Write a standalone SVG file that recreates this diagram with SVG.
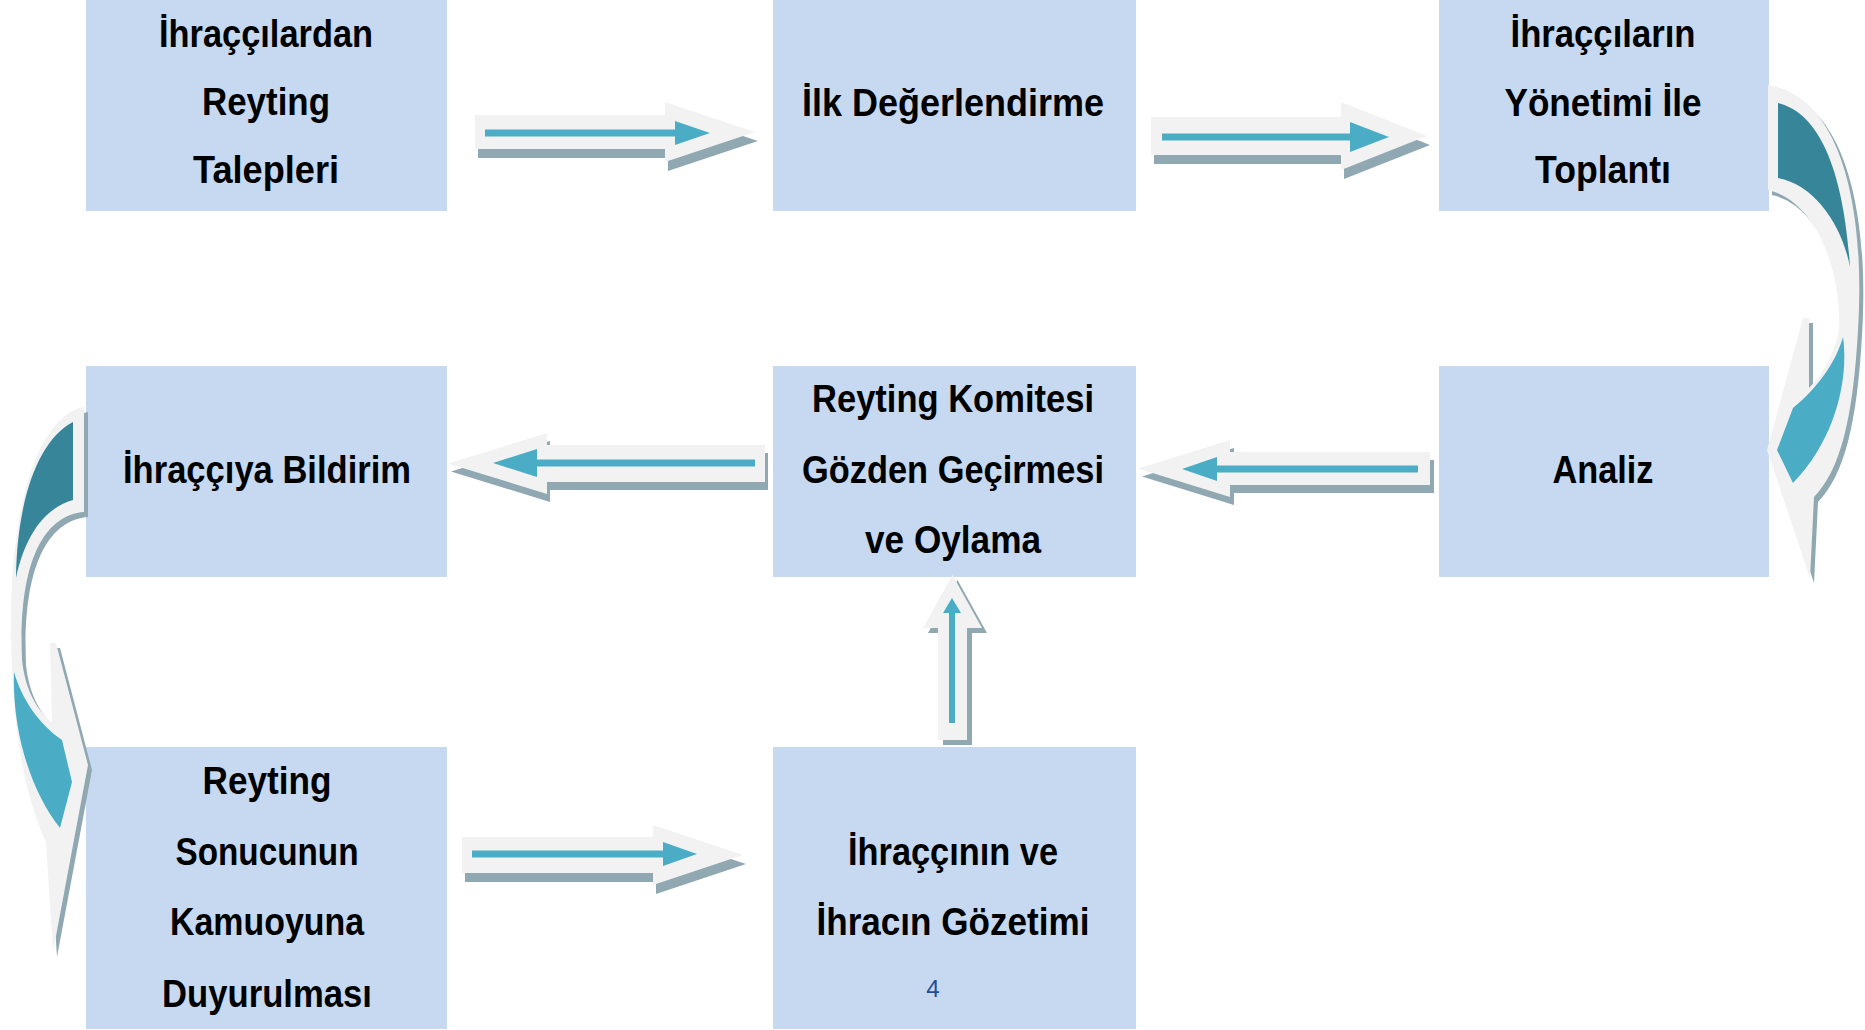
<svg xmlns="http://www.w3.org/2000/svg" xmlns:xlink="http://www.w3.org/1999/xlink" width="1865" height="1030" viewBox="0 0 1865 1030">
<style>
.box{fill:#C6D9F1}
.t{font-family:"Liberation Sans Narrow","Liberation Sans",Arial,sans-serif;font-weight:bold;font-size:39px;text-anchor:middle;fill:#000}
.num{font-family:"Liberation Sans",Arial,sans-serif;font-size:24px;text-anchor:middle;fill:#1F4E99}
.env{fill:#F2F2F2}
.shd{fill:#8FA8B1}
.teal{fill:#4BACC6}
.tl{stroke:#4BACC6;stroke-width:7;fill:none}
.dark{fill:#378598}
</style>
<defs>
<path id="a1" d="M475 115H665V102L755 132L665 162V149H475Z"/>
<path id="a2" d="M1151 117H1341V102L1427 136L1341 170V155H1151Z"/>
<path id="a3" d="M462 837H653V825L743 855L653 885V873H462Z"/>
<path id="a4" d="M1430 452H1230V440L1138 468.5L1230 497V485H1430Z"/>
<path id="a5" d="M765 445H547V433L448 463.5L547 494V482H765Z"/>
<path id="a6" d="M938 740V628H923L952.5 575L982 628H967V740Z"/>
<path id="cr" d="M1768 85C1838 95 1866 200 1858 330C1853 420 1840 470 1814 497L1810 578L1767 450L1803 318L1809 318L1809 388C1822 375 1834 355 1839 330C1842 270 1815 200 1768 190Z"/>
<path id="cl" d="M84 407C40 415 10 500 11 630C12 720 22 790 46 842L53 952L88 765L56 643L50 643L52 722C38 712 25 690 22 660C18 560 45 515 84 512Z"/>
</defs>
<rect width="1865" height="1030" fill="#fff"/>
<g id="node-talepleri">
<rect class="box" x="86" y="0" width="361" height="211"/>
<text class="t" x="266" y="47" textLength="214" lengthAdjust="spacingAndGlyphs">İhraççılardan</text>
<text class="t" x="266" y="115" textLength="128" lengthAdjust="spacingAndGlyphs">Reyting</text>
<text class="t" x="266" y="183" textLength="146" lengthAdjust="spacingAndGlyphs">Talepleri</text>
</g>
<g id="node-ilk">
<rect class="box" x="773" y="0" width="363" height="211"/>
<text class="t" x="953" y="116" textLength="302" lengthAdjust="spacingAndGlyphs">İlk Değerlendirme</text>
</g>
<g id="node-toplanti">
<rect class="box" x="1439" y="0" width="330" height="211"/>
<text class="t" x="1603" y="47" textLength="185" lengthAdjust="spacingAndGlyphs">İhraççıların</text>
<text class="t" x="1603" y="116" textLength="197" lengthAdjust="spacingAndGlyphs">Yönetimi İle</text>
<text class="t" x="1603" y="183" textLength="136" lengthAdjust="spacingAndGlyphs">Toplantı</text>
</g>
<g id="node-bildirim">
<rect class="box" x="86" y="366" width="361" height="211"/>
<text class="t" x="267" y="483" textLength="288" lengthAdjust="spacingAndGlyphs">İhraççıya Bildirim</text>
</g>
<g id="node-komite">
<rect class="box" x="773" y="366" width="363" height="211"/>
<text class="t" x="953" y="412" textLength="282" lengthAdjust="spacingAndGlyphs">Reyting Komitesi</text>
<text class="t" x="953" y="483" textLength="302" lengthAdjust="spacingAndGlyphs">Gözden Geçirmesi</text>
<text class="t" x="953" y="553" textLength="176" lengthAdjust="spacingAndGlyphs">ve Oylama</text>
</g>
<g id="node-analiz">
<rect class="box" x="1439" y="366" width="330" height="211"/>
<text class="t" x="1603" y="483" textLength="101" lengthAdjust="spacingAndGlyphs">Analiz</text>
</g>
<g id="node-duyuru">
<rect class="box" x="86" y="747" width="361" height="282"/>
<text class="t" x="267" y="794" textLength="129" lengthAdjust="spacingAndGlyphs">Reyting</text>
<text class="t" x="267" y="865" textLength="183" lengthAdjust="spacingAndGlyphs">Sonucunun</text>
<text class="t" x="267" y="935" textLength="194" lengthAdjust="spacingAndGlyphs">Kamuoyuna</text>
<text class="t" x="267" y="1007" textLength="210" lengthAdjust="spacingAndGlyphs">Duyurulması</text>
</g>
<g id="node-gozetim">
<rect class="box" x="773" y="747" width="363" height="282"/>
<text class="t" x="953" y="865" textLength="210" lengthAdjust="spacingAndGlyphs">İhraççının ve</text>
<text class="t" x="953" y="935" textLength="273" lengthAdjust="spacingAndGlyphs">İhracın Gözetimi</text>
<text class="num" x="933" y="997">4</text>
</g>
<g id="connectors">
<use xlink:href="#a1" class="shd" transform="translate(3,9)"/>
<use xlink:href="#a1" class="env"/>
<path class="tl" d="M485 133H678"/>
<path class="teal" d="M675 121L710 133L675 145Z"/>
<use xlink:href="#a2" class="shd" transform="translate(3,9)"/>
<use xlink:href="#a2" class="env"/>
<path class="tl" d="M1162 137H1352"/>
<path class="teal" d="M1350 122L1389 137L1350 152Z"/>
<use xlink:href="#a3" class="shd" transform="translate(3,9)"/>
<use xlink:href="#a3" class="env"/>
<path class="tl" d="M472 854H665"/>
<path class="teal" d="M663 842L697 854L663 866Z"/>
<use xlink:href="#a4" class="shd" transform="translate(4,8)"/>
<use xlink:href="#a4" class="env"/>
<path class="tl" d="M1418 469H1215"/>
<path class="teal" d="M1217 457L1182 469L1217 481Z"/>
<use xlink:href="#a5" class="shd" transform="translate(3,8)"/>
<use xlink:href="#a5" class="env"/>
<path class="tl" d="M755 463H535"/>
<path class="teal" d="M537 449L493 463L537 477Z"/>
<use xlink:href="#a6" class="shd" transform="translate(5,5)"/>
<use xlink:href="#a6" class="env"/>
<path class="tl" style="stroke-width:6" d="M952 723V611"/>
<path class="teal" d="M943 613L952 598L961 613Z"/>
<use xlink:href="#cr" class="shd" transform="translate(4,5)"/>
<use xlink:href="#cr" class="env"/>
<path class="dark" d="M1778 103C1815 112 1843 160 1850 267C1842 225 1815 185 1778 178Z"/>
<path class="teal" d="M1843 337C1849 380 1835 440 1793 483L1777 450L1793 408C1815 390 1835 365 1843 337Z"/>
<use xlink:href="#cl" class="shd" transform="translate(4,5)"/>
<use xlink:href="#cl" class="env"/>
<path class="dark" d="M73 422L73 500C45 508 25 535 16 578C17 500 38 440 73 422Z"/>
<path class="teal" d="M14 672C12 730 30 790 60 828L72 782L62 740C40 725 22 700 14 672Z"/>
</g>
</svg>
